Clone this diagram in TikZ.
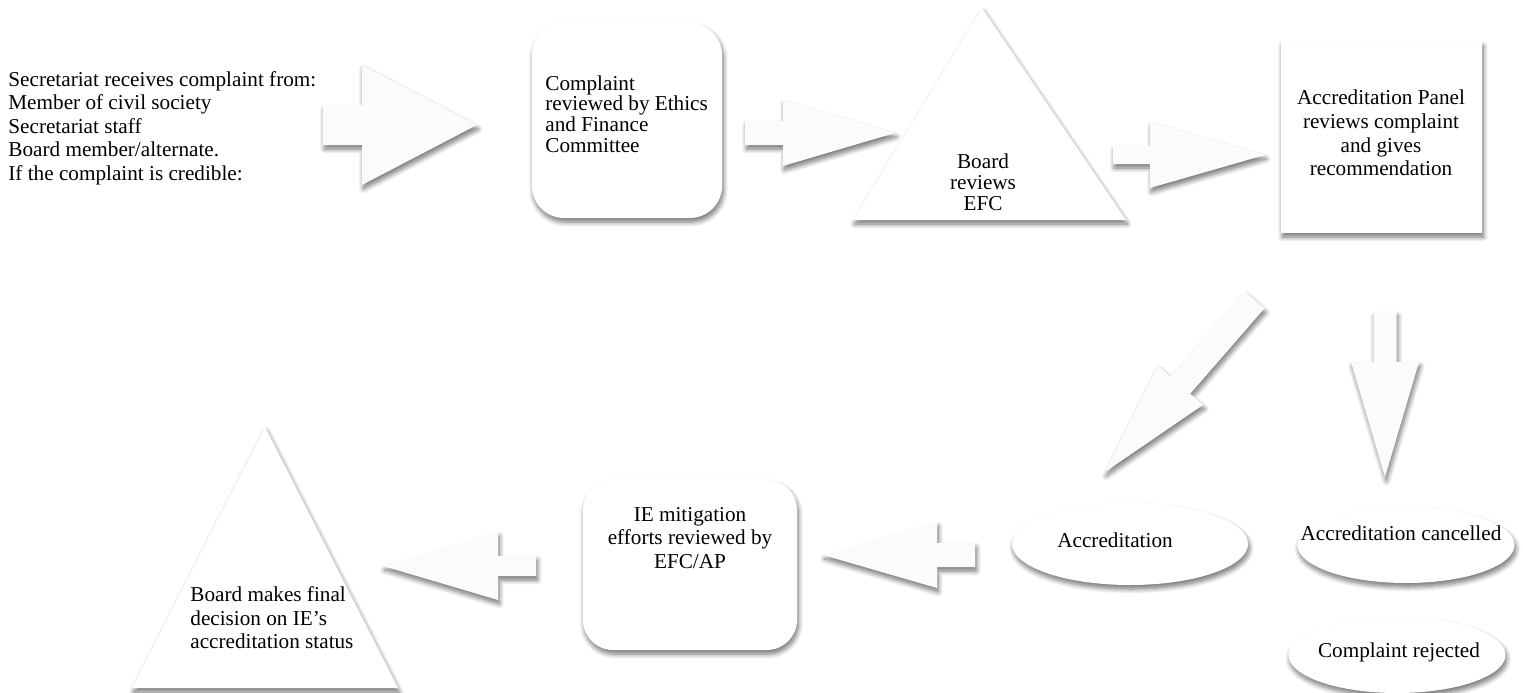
\documentclass[tikz,border=0pt]{standalone}
\usepackage{fontspec}
\setmainfont{Liberation Serif}
\usepackage{tikz}
\usetikzlibrary{positioning, shapes.geometric, shadows.blur}

\tikzset{
    soft/.style={blur shadow={shadow xshift=0.7pt, shadow yshift=-2pt, shadow blur radius=2.4pt, shadow blur steps=8, shadow opacity=55}},
    shapefill/.style={fill=white, draw=none, soft},
    arrowfill/.style={fill=gray!3, draw=none, soft},
    roundbox/.style={shapefill, rectangle, rounded corners=16pt, inner sep=0pt},
    squarebox/.style={shapefill, rectangle, inner sep=0pt},
    oval/.style={shapefill, ellipse, inner sep=0pt},
    txt/.style={inner sep=0pt, font=\fontsize{10.6pt}{11.8pt}\selectfont},
    tighttxt/.style={inner sep=0pt, font=\fontsize{10.6pt}{10.4pt}\selectfont}
}

% block arrow: name, tip, angle, length, head length, shaft half width, head half width
\newcommand{\blockarrow}[7]{%
    \begin{scope}[shift={#2}, rotate=#3]
        \fill[arrowfill] (0,0) -- (-#5,-#7) -- (-#5,-#6) -- (-#4,-#6) -- (-#4,#6) -- (-#5,#6) -- (-#5,#7) -- cycle;
        \coordinate (#1) at (0,0);
    \end{scope}}

\begin{document}
\begin{tikzpicture}[x=0.5pt, y=-0.5pt]
    \useasboundingbox (0,0) rectangle (1523,692);

    % top row
    \node[txt, align=left, anchor=west] (source) at (8,128) {Secretariat receives complaint from:\\Member of civil society\\Secretariat staff\\Board member/alternate.\\If the complaint is credible:};

    \blockarrow{toefc}{(477,125)}{0}{154}{115}{20}{60}

    \node[roundbox, minimum width=95pt, minimum height=97.5pt] (efcbox) at (627,120.5) {};
    \node[tighttxt, align=left, anchor=west] (efctext) at (545,114) {Complaint\\reviewed by Ethics\\and Finance\\Committee};

    \blockarrow{toboard}{(895,133)}{0}{150}{112}{12}{33}

    \fill[shapefill] (982,8) coordinate (boardtop) -- (1126,220) -- (853,220) -- cycle;
    \node[tighttxt, align=center] (boardtext) at (983,182) {Board\\reviews\\EFC};

    \blockarrow{topanel}{(1265,155)}{0}{152}{115}{9}{33}

    \node[squarebox, minimum width=100.5pt, minimum height=95.5pt] (panelbox) at (1381.5,137.5) {};
    \node[txt, align=center] (paneltext) at (1381,133) {Accreditation Panel\\reviews complaint\\and gives\\recommendation};

    % outcomes
    \blockarrow{toacc}{(1105,472)}{-131}{228}{115}{13}{30}
    \blockarrow{tocancel}{(1385,477)}{-90}{165}{115}{11.5}{34}

    \node[oval, minimum width=118pt, minimum height=41pt] (accoval) at (1130,544) {};
    \node[txt] (acctext) at (1115,540) {Accreditation};

    \node[oval, minimum width=108.5pt, minimum height=38pt] (canceloval) at (1406,545) {};
    \node[txt] (canceltext) at (1401,533) {Accreditation cancelled};

    \node[oval, minimum width=108.5pt, minimum height=38pt] (rejectoval) at (1397,655) {};
    \node[txt] (rejecttext) at (1399,652) {Complaint rejected};

    % bottom row
    \blockarrow{tomit}{(823,555)}{180}{152}{114}{12}{33}

    \node[roundbox, rounded corners=15pt, minimum width=107pt, minimum height=85pt] (mitbox) at (690,565) {};
    \node[txt, align=center] (mittext) at (690,538) {IE mitigation\\efforts reviewed by\\EFC/AP};

    \blockarrow{tofinal}{(383,566)}{180}{153}{115}{10}{34}

    \fill[shapefill] (265,427) coordinate (finaltop) -- (398,688) -- (132,688) -- cycle;
    \node[txt, align=left, anchor=west] (finaltext) at (190,618) {Board makes final\\decision on IE’s\\accreditation status};
\end{tikzpicture}
\end{document}
